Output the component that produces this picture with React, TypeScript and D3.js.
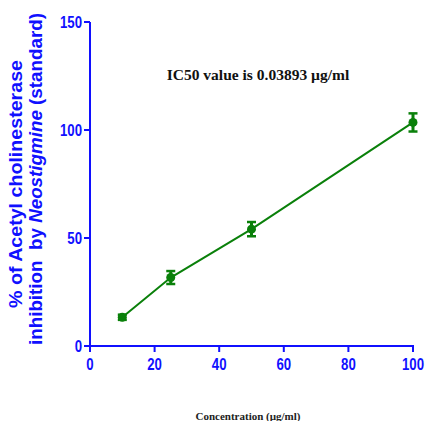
import React from "react";
import * as d3 from "d3";

const concentrations = [10, 25, 50, 100];
const inhibition = [13.3, 31.7, 54.1, 103.5];
const sem = [1.2, 3.0, 3.3, 4.2];
const xTicks = [0, 20, 40, 60, 80, 100];
const yTicks = [0, 50, 100, 150];

const W = 427;
const H = 421;
const BLUE = "#1010ff";
const GREEN = "#0a800a";

export default function App() {
  const x = d3.scaleLinear().domain([0, 100]).range([90, 413]);
  const y = d3.scaleLinear().domain([0, 150]).range([346, 22]);
  const line = d3
    .line<number>()
    .x((_, i) => x(concentrations[i]))
    .y((d) => y(d));
  const pts = concentrations.map((c, i) => ({ c, v: inhibition[i], e: sem[i] }));
  return (
    <svg
      width={W}
      height={H}
      style={{ position: "absolute", left: 0, top: 0, background: "#fff" }}
    >
      {/* axes */}
      <line x1={x(0)} x2={x(0)} y1={y(150)} y2={y(0) + 1} stroke={BLUE} strokeWidth={2} />
      <line x1={x(0) - 1} x2={x(100) + 1} y1={y(0)} y2={y(0)} stroke={BLUE} strokeWidth={2} />
      {yTicks.map((t) => (
        <g key={"y" + t}>
          <line x1={x(0) - 6} x2={x(0)} y1={y(t)} y2={y(t)} stroke={BLUE} strokeWidth={2} />
          <text
            transform={`translate(${x(0) - 8},${y(t) + 6}) scale(0.8,1)`}
            textAnchor="end"
            fontFamily="Liberation Sans, Arial, sans-serif"
            fontWeight="bold"
            fontSize={16.5}
            fill={BLUE}
          >
            {t}
          </text>
        </g>
      ))}
      {xTicks.map((t) => (
        <g key={"x" + t}>
          <line x1={x(t)} x2={x(t)} y1={y(0)} y2={y(0) + 6} stroke={BLUE} strokeWidth={2} />
          <text
            transform={`translate(${x(t)},${y(0) + 24}) scale(0.8,1)`}
            textAnchor="middle"
            fontFamily="Liberation Sans, Arial, sans-serif"
            fontWeight="bold"
            fontSize={16.5}
            fill={BLUE}
          >
            {t}
          </text>
        </g>
      ))}
      {/* y label */}
      <text
        transform="translate(22,184) rotate(-90)"
        textAnchor="middle"
        fontFamily="Liberation Sans, Arial, sans-serif"
        fontWeight="bold"
        fontSize={17.5}
        fill={BLUE}
        textLength={248}
        lengthAdjust="spacingAndGlyphs"
      >
        % of Acetyl cholinesterase
      </text>
      <text
        transform="translate(42,179) rotate(-90)"
        textAnchor="middle"
        fontFamily="Liberation Sans, Arial, sans-serif"
        fontWeight="bold"
        fontSize={17.5}
        fill={BLUE}
        style={{ whiteSpace: "pre" }}
        textLength={332}
        lengthAdjust="spacingAndGlyphs"
      >
        {"inhibition  by "}
        <tspan fontStyle="italic">Neostigmine</tspan>
        {" (standard)"}
      </text>
      {/* x label */}
      <text
        x={248}
        y={420}
        textAnchor="middle"
        fontFamily="Liberation Serif, Times New Roman, serif"
        fontWeight="bold"
        fontSize={11}
        fill="#222"
      >
        Concentration (µg/ml)
      </text>
      {/* annotation */}
      <text
        x={258}
        y={80}
        textAnchor="middle"
        fontFamily="Liberation Serif, Times New Roman, serif"
        fontWeight="bold"
        fontSize={15.5}
        fill="#111"
      >
        IC50 value is 0.03893 µg/ml
      </text>
      {/* data */}
      <path d={line(inhibition) || ""} fill="none" stroke={GREEN} strokeWidth={2} />
      {pts.map((p) => (
        <g key={"p" + p.c}>
          <line x1={x(p.c)} x2={x(p.c)} y1={y(p.v + p.e)} y2={y(p.v - p.e)} stroke={GREEN} strokeWidth={3} />
          <line x1={x(p.c) - 4.5} x2={x(p.c) + 4.5} y1={y(p.v + p.e)} y2={y(p.v + p.e)} stroke={GREEN} strokeWidth={2.5} />
          <line x1={x(p.c) - 4.5} x2={x(p.c) + 4.5} y1={y(p.v - p.e)} y2={y(p.v - p.e)} stroke={GREEN} strokeWidth={2.5} />
          <circle cx={x(p.c)} cy={y(p.v)} r={4.5} fill={GREEN} />
        </g>
      ))}
    </svg>
  );
}
